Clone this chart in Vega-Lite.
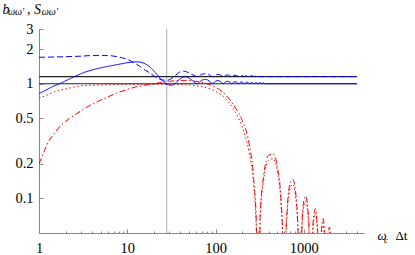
{
  "$schema": "https://vega.github.io/schema/vega-lite/v6.json",
  "width": 325,
  "height": 204,
  "autosize": "none",
  "padding": {"left": 39, "top": 29, "right": 51, "bottom": 22},
  "background": "white",
  "config": {"view": {"stroke": null}, "font": "Liberation Serif, Times New Roman, serif"},
  "title": {"text": "ωω′\u00a0\u00a0\u00a0\u00a0\u00a0\u00a0\u00a0ωω′", "anchor": "start", "frame": "group", "font": "Liberation Serif, Times New Roman, serif", "fontSize": 10, "fontStyle": "italic", "fontWeight": "normal", "color": "black", "offset": 0, "dx": -31, "dy": 23, "baseline": "alphabetic"},
  "datasets": {
    "curves": [
      {"s":"bs","x":1,"y":0.82},{"s":"bs","x":1.2,"y":0.88},{"s":"bs","x":1.45,"y":0.95},{"s":"bs","x":1.7,"y":1.0},{"s":"bs","x":2,"y":1.06},{"s":"bs","x":2.5,"y":1.15},{"s":"bs","x":3.3,"y":1.26},{"s":"bs","x":4.5,"y":1.35},{"s":"bs","x":6.4,"y":1.43},{"s":"bs","x":8.5,"y":1.49},{"s":"bs","x":11,"y":1.54},{"s":"bs","x":13,"y":1.55},{"s":"bs","x":15,"y":1.52},{"s":"bs","x":17,"y":1.45},{"s":"bs","x":19,"y":1.35},{"s":"bs","x":21,"y":1.24},{"s":"bs","x":23.5,"y":1.12},{"s":"bs","x":26,"y":1.03},{"s":"bs","x":29,"y":0.98},{"s":"bs","x":32,"y":0.97},{"s":"bs","x":35,"y":1.01},{"s":"bs","x":39,"y":1.09},{"s":"bs","x":45,"y":1.15},{"s":"bs","x":50,"y":1.12},{"s":"bs","x":55,"y":1.06},{"s":"bs","x":62,"y":1.0},
      {"s":"bs","x":69.5,"y":1.071},{"s":"bs","x":77,"y":1.091},{"s":"bs","x":84.5,"y":1.059},{"s":"bs","x":92,"y":1.0},{"s":"bs","x":99.5,"y":1.05},{"s":"bs","x":107,"y":1.065},{"s":"bs","x":114.5,"y":1.043},{"s":"bs","x":122,"y":1.0},{"s":"bs","x":129.5,"y":1.038},{"s":"bs","x":137,"y":1.051},{"s":"bs","x":144.5,"y":1.034},{"s":"bs","x":152,"y":1.0},{"s":"bs","x":159.5,"y":1.031},{"s":"bs","x":167,"y":1.042},{"s":"bs","x":174.5,"y":1.028},{"s":"bs","x":182,"y":1.0},{"s":"bs","x":189.5,"y":1.026},{"s":"bs","x":197,"y":1.036},{"s":"bs","x":204.5,"y":1.024},{"s":"bs","x":212,"y":1.0},{"s":"bs","x":219.5,"y":1.023},{"s":"bs","x":227,"y":1.031},{"s":"bs","x":234.5,"y":1.021},{"s":"bs","x":242,"y":1.0},{"s":"bs","x":257,"y":1.027},{"s":"bs","x":272,"y":1.0},{"s":"bs","x":287,"y":1.024},{"s":"bs","x":302,"y":1.0},{"s":"bs","x":317,"y":1.022},{"s":"bs","x":332,"y":1.0},{"s":"bs","x":347,"y":1.02},{"s":"bs","x":362,"y":1.0},{"s":"bs","x":4000,"y":1.0},
      {"s":"bd","x":1,"y":1.70},{"s":"bd","x":1.5,"y":1.71},{"s":"bd","x":2,"y":1.72},{"s":"bd","x":3,"y":1.74},{"s":"bd","x":4,"y":1.76},{"s":"bd","x":6,"y":1.76},{"s":"bd","x":8,"y":1.71},{"s":"bd","x":10,"y":1.63},{"s":"bd","x":12,"y":1.52},{"s":"bd","x":14,"y":1.41},{"s":"bd","x":16,"y":1.31},{"s":"bd","x":18,"y":1.24},{"s":"bd","x":20,"y":1.17},{"s":"bd","x":22,"y":1.12},{"s":"bd","x":25,"y":1.08},{"s":"bd","x":28,"y":1.07},{"s":"bd","x":31,"y":1.1},{"s":"bd","x":35,"y":1.18},{"s":"bd","x":39,"y":1.26},{"s":"bd","x":43,"y":1.29},{"s":"bd","x":47,"y":1.27},{"s":"bd","x":52,"y":1.22},{"s":"bd","x":57,"y":1.18},{"s":"bd","x":62,"y":1.155},
      {"s":"bd","x":69.5,"y":1.208},{"s":"bd","x":77,"y":1.223},{"s":"bd","x":84.5,"y":1.199},{"s":"bd","x":92,"y":1.155},{"s":"bd","x":99.5,"y":1.192},{"s":"bd","x":107,"y":1.204},{"s":"bd","x":114.5,"y":1.187},{"s":"bd","x":122,"y":1.155},{"s":"bd","x":129.5,"y":1.184},{"s":"bd","x":137,"y":1.193},{"s":"bd","x":144.5,"y":1.181},{"s":"bd","x":152,"y":1.155},{"s":"bd","x":159.5,"y":1.178},{"s":"bd","x":167,"y":1.186},{"s":"bd","x":174.5,"y":1.176},{"s":"bd","x":182,"y":1.155},{"s":"bd","x":197,"y":1.182},{"s":"bd","x":212,"y":1.155},{"s":"bd","x":227,"y":1.178},{"s":"bd","x":242,"y":1.155},{"s":"bd","x":257,"y":1.175},{"s":"bd","x":272,"y":1.155},{"s":"bd","x":287,"y":1.173},{"s":"bd","x":302,"y":1.155},{"s":"bd","x":4000,"y":1.155},
      {"s":"rd","x":1,"y":0.75},{"s":"rd","x":1.2,"y":0.79},{"s":"rd","x":1.5,"y":0.85},{"s":"rd","x":2,"y":0.9},{"s":"rd","x":2.8,"y":0.95},{"s":"rd","x":4,"y":0.97},{"s":"rd","x":6,"y":0.98},{"s":"rd","x":10,"y":0.985},{"s":"rd","x":20,"y":0.99},{"s":"rd","x":40,"y":0.985},{"s":"rd","x":60,"y":0.96},{"s":"rd","x":80,"y":0.92},{"s":"rd","x":100,"y":0.86},{"s":"rd","x":130,"y":0.74},{"s":"rd","x":160,"y":0.6},{"s":"rd","x":200,"y":0.42},{"s":"rd","x":240,"y":0.25},{"s":"rd","x":270,"y":0.13},{"s":"rd","x":290,"y":0.05},{"s":"rd","x":300,"y":0.0001},
      {"s":"rd","x":320,"y":0.065},{"s":"rd","x":350,"y":0.143},{"s":"rd","x":400,"y":0.2165},{"s":"rd","x":450,"y":0.222},{"s":"rd","x":500,"y":0.173},{"s":"rd","x":550,"y":0.091},{"s":"rd","x":580,"y":0.036},{"s":"rd","x":600,"y":0.0001},
      {"s":"rd","x":620,"y":0.0335},{"s":"rd","x":650,"y":0.077},{"s":"rd","x":700,"y":0.124},{"s":"rd","x":750,"y":0.133},{"s":"rd","x":800,"y":0.108},{"s":"rd","x":850,"y":0.059},{"s":"rd","x":880,"y":0.0236},{"s":"rd","x":900,"y":0.0001},
      {"s":"rd","x":950,"y":0.0526},{"s":"rd","x":1000,"y":0.0866},{"s":"rd","x":1050,"y":0.0952},{"s":"rd","x":1100,"y":0.0787},{"s":"rd","x":1150,"y":0.0435},{"s":"rd","x":1200,"y":0.0001},
      {"s":"rd","x":1250,"y":0.04},{"s":"rd","x":1300,"y":0.0666},{"s":"rd","x":1350,"y":0.074},{"s":"rd","x":1400,"y":0.0619},{"s":"rd","x":1450,"y":0.0345},{"s":"rd","x":1500,"y":0.0001},
      {"s":"rd","x":1600,"y":0.054},{"s":"rd","x":1650,"y":0.0606},{"s":"rd","x":1700,"y":0.051},{"s":"rd","x":1800,"y":0.0001},{"s":"rd","x":1950,"y":0.0513},{"s":"rd","x":2100,"y":0.0001},
      {"s":"rdd","x":1,"y":0.2},{"s":"rdd","x":1.15,"y":0.26},{"s":"rdd","x":1.3,"y":0.32},{"s":"rdd","x":1.5,"y":0.37},{"s":"rdd","x":1.7,"y":0.42},{"s":"rdd","x":2,"y":0.47},{"s":"rdd","x":2.5,"y":0.53},{"s":"rdd","x":3.3,"y":0.61},{"s":"rdd","x":5,"y":0.72},{"s":"rdd","x":8,"y":0.84},{"s":"rdd","x":12,"y":0.93},{"s":"rdd","x":20,"y":1.0},{"s":"rdd","x":30,"y":1.05},{"s":"rdd","x":45,"y":1.07},{"s":"rdd","x":60,"y":1.05},{"s":"rdd","x":80,"y":1.0},{"s":"rdd","x":100,"y":0.93},{"s":"rdd","x":130,"y":0.8},{"s":"rdd","x":160,"y":0.65},{"s":"rdd","x":200,"y":0.48},{"s":"rdd","x":240,"y":0.3},{"s":"rdd","x":270,"y":0.15},{"s":"rdd","x":290,"y":0.06},{"s":"rdd","x":300,"y":0.0001},
      {"s":"rdd","x":320,"y":0.0715},{"s":"rdd","x":350,"y":0.157},{"s":"rdd","x":400,"y":0.238},{"s":"rdd","x":450,"y":0.244},{"s":"rdd","x":500,"y":0.191},{"s":"rdd","x":550,"y":0.1},{"s":"rdd","x":580,"y":0.0394},{"s":"rdd","x":600,"y":0.0001},
      {"s":"rdd","x":620,"y":0.0369},{"s":"rdd","x":650,"y":0.0846},{"s":"rdd","x":700,"y":0.136},{"s":"rdd","x":750,"y":0.147},{"s":"rdd","x":800,"y":0.119},{"s":"rdd","x":850,"y":0.0647},{"s":"rdd","x":880,"y":0.026},{"s":"rdd","x":900,"y":0.0001},
      {"s":"rdd","x":950,"y":0.0579},{"s":"rdd","x":1000,"y":0.0953},{"s":"rdd","x":1050,"y":0.105},{"s":"rdd","x":1100,"y":0.0866},{"s":"rdd","x":1150,"y":0.0478},{"s":"rdd","x":1200,"y":0.0001},
      {"s":"rdd","x":1250,"y":0.044},{"s":"rdd","x":1300,"y":0.0733},{"s":"rdd","x":1350,"y":0.0815},{"s":"rdd","x":1400,"y":0.068},{"s":"rdd","x":1450,"y":0.038},{"s":"rdd","x":1500,"y":0.0001},
      {"s":"rdd","x":1550,"y":0.0355},{"s":"rdd","x":1600,"y":0.0595},{"s":"rdd","x":1650,"y":0.0667},{"s":"rdd","x":1700,"y":0.056},{"s":"rdd","x":1750,"y":0.031},{"s":"rdd","x":1800,"y":0.0001},
      {"s":"rdd","x":1850,"y":0.03},{"s":"rdd","x":1900,"y":0.05},{"s":"rdd","x":1950,"y":0.0564},{"s":"rdd","x":2000,"y":0.0476},{"s":"rdd","x":2050,"y":0.026},{"s":"rdd","x":2100,"y":0.0001}
    ],
    "hlines": [
      {"x":1,"x2":4000,"y":1.0},
      {"x":1,"x2":4000,"y":1.155}
    ],
    "vline": [{"x":28}]
  },
  "layer": [
    {
      "layer": [
        {
          "data": {"name": "vline"},
          "mark": {"type": "rule", "color": "#aaaaaa", "strokeWidth": 1},
          "encoding": {
            "x": {"field": "x", "type": "quantitative",
              "scale": {"type": "log", "domain": [1, 4800], "nice": false},
              "axis": {
                "values": [1,2,3,4,5,6,7,8,9,10,20,30,40,50,60,70,80,90,100,200,300,400,500,600,700,800,900,1000,2000,3000,4000],
                "labelExpr": "indexof([1,10,100,1000], datum.value) >= 0 ? format(datum.value, 'd') : ''",
                "tickSize": {"condition": {"test": "indexof([1,10,100,1000], datum.value) >= 0", "value": -4}, "value": -2},
                "labelPadding": 12,
                "labelFlush": false, "labelOverlap": false,
                "labelFont": "Liberation Serif, Times New Roman, serif", "labelFontSize": 14.5, "labelColor": "black",
                "domainColor": "#888888", "tickColor": "#888888", "grid": false,
                "title": "ω", "titleX": 338, "titleY": 6.5, "titleAlign": "left", "titleBaseline": "alphabetic",
                "titleFont": "Liberation Serif, Times New Roman, serif", "titleFontSize": 13, "titleFontWeight": "normal", "titleFontStyle": "italic", "titleColor": "black"
              }
            }
          }
        },
        {
          "data": {"name": "hlines"},
          "mark": {"type": "rule", "color": "#222222", "strokeWidth": 1.2},
          "encoding": {
            "x": {"field": "x", "type": "quantitative"},
            "x2": {"field": "x2"},
            "y": {"field": "y", "type": "quantitative",
              "scale": {"type": "log", "domain": [0.05, 3], "nice": false},
              "axis": {
                "values": [0.1, 0.2, 0.5, 1, 2, 3],
                "labelExpr": "format(datum.value, '~g')",
                "tickSize": -4, "labelPadding": 10,
                "labelFont": "Liberation Serif, Times New Roman, serif", "labelFontSize": 14.5, "labelColor": "black",
                "domainColor": "#888888", "tickColor": "#888888", "grid": false, "labelOverlap": false, "labelFlush": false,
                "title": "b\u00a0\u00a0\u00a0\u00a0\u00a0, S", "titleAngle": 0, "titleX": -37, "titleY": -16, "titleAlign": "left", "titleBaseline": "alphabetic",
                "titleFont": "Liberation Serif, Times New Roman, serif", "titleFontSize": 14, "titleFontWeight": "normal", "titleFontStyle": "italic", "titleColor": "black"
              }
            }
          }
        },
        {
          "data": {"name": "curves"},
          "mark": {"type": "line", "strokeWidth": 1, "interpolate": "monotone", "clip": true},
          "encoding": {
            "x": {"field": "x", "type": "quantitative"},
            "y": {"field": "y", "type": "quantitative"},
            "color": {"field": "s", "type": "nominal", "legend": null,
              "scale": {"domain": ["bs","bd","rd","rdd"], "range": ["#0000ff","#0000ff","#ff0000","#ff0000"]}},
            "strokeDash": {"field": "s", "type": "nominal", "legend": null,
              "scale": {"domain": ["bs","bd","rd","rdd"], "range": [[1,0],[6,3],[1.5,2.5],[6,2.5,1.5,2.5]]}}
          }
        }
      ]
    },
    {
      "data": {"name": "vline"},
      "mark": {"type": "point", "opacity": 0},
      "encoding": {
        "x": {"field": "x", "type": "quantitative",
          "scale": {"type": "log", "domain": [1, 4800], "nice": false},
          "axis": {"orient": "top", "domain": false, "ticks": false, "labels": false, "grid": false,
            "title": "c", "titleX": 344.5, "titleY": 213, "titleAlign": "left", "titleBaseline": "alphabetic",
            "titleFont": "Liberation Serif, Times New Roman, serif", "titleFontSize": 9, "titleFontWeight": "normal", "titleFontStyle": "italic", "titleColor": "black"}
        },
        "y": {"datum": 1, "type": "quantitative",
          "scale": {"type": "log", "domain": [0.05, 3], "nice": false},
          "axis": {"orient": "right", "domain": false, "ticks": false, "labels": false, "grid": false,
            "title": "Δt", "titleAngle": 0, "titleX": 31, "titleY": 210.5, "titleAlign": "left", "titleBaseline": "alphabetic",
            "titleFont": "Liberation Serif, Times New Roman, serif", "titleFontSize": 13, "titleFontWeight": "normal", "titleColor": "black"}
        }
      }
    }
  ],
  "resolve": {"scale": {"x": "independent", "y": "independent"}}
}
